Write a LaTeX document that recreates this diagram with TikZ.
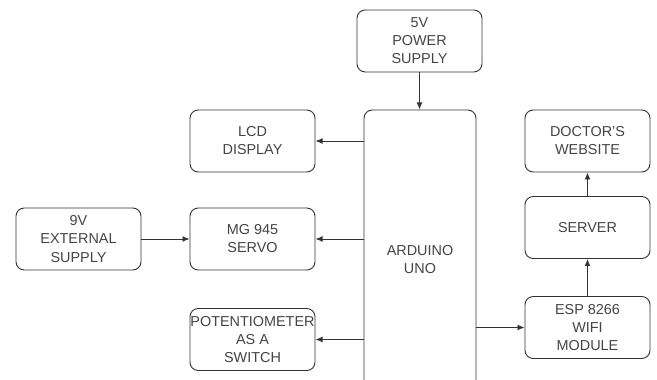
\documentclass[tikz,border=0pt]{standalone}
\usepackage{fontspec}
\setmainfont{Liberation Sans}
\usetikzlibrary{arrows.meta}

\definecolor{linegray}{HTML}{333333}
\definecolor{textgray}{HTML}{444444}

\tikzset{
  block/.style={draw=linegray,line width=0.8pt,rounded corners=7pt,
    minimum width=3.75cm,minimum height=1.86cm,inner sep=0pt,align=center,
    text=textgray,font=\fontsize{12.3}{15.4}\selectfont},
  link/.style={draw=linegray,line width=0.8pt,-{Latex[length=6pt,width=5pt]}}
}

\begin{document}
\begin{tikzpicture}
  \clip (0,0) rectangle (19.71,11.37);
  \node[block] (power) at (12.585,10.14) {5V\\POWER\\SUPPLY};
  \node[block,minimum width=3.36cm,minimum height=9cm] (ard) at (12.6,3.57) {ARDUINO\\UNO};
  \node[block] (lcd) at (7.575,7.14) {LCD\\DISPLAY};
  \node[block] (servo) at (7.575,4.2) {MG 945\\SERVO};
  \node[block] (pot) at (7.575,1.185) {POTENTIOMETER\\AS A\\SWITCH};
  \node[block] (ext) at (2.355,4.2) {9V\\EXTERNAL\\SUPPLY};
  \node[block] (web) at (17.625,7.14) {DOCTOR'S\\WEBSITE};
  \node[block] (server) at (17.625,4.545) {SERVER};
  \node[block] (esp) at (17.625,1.545) {ESP 8266\\WIFI\\MODULE};
  \draw[link] (power) -- (power |- ard.north);
  \draw[link] (lcd -| ard.west) -- (lcd);
  \draw[link] (servo -| ard.west) -- (servo);
  \draw[link] (pot -| ard.west) -- (pot);
  \draw[link] (ext) -- (servo);
  \draw[link] (esp -| ard.east) -- (esp);
  \draw[link] (esp) -- (server);
  \draw[link] (server) -- (web);
\end{tikzpicture}
\end{document}
